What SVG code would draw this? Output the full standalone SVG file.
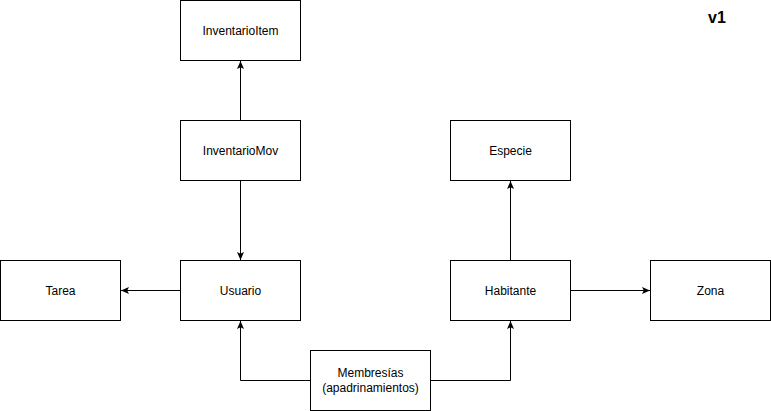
<svg xmlns="http://www.w3.org/2000/svg" width="771" height="411" viewBox="0 0 771 411">
<style>
.box{fill:#ffffff;stroke:#000000;stroke-width:1}
.lbl{font-family:"Liberation Sans",Arial,Helvetica,sans-serif;font-size:12px;fill:#000000;text-anchor:middle;dominant-baseline:central}
.edge{fill:none;stroke:#000000;stroke-width:1;marker-end:url(#arr)}
.title{font-family:"Liberation Sans",Arial,Helvetica,sans-serif;font-size:16px;font-weight:bold;fill:#000000;text-anchor:middle;dominant-baseline:central}
</style>
<defs>
<marker id="arr" markerUnits="userSpaceOnUse" markerWidth="8" markerHeight="8" viewBox="0 0 8 8" refX="8" refY="4" orient="auto">
<path d="M8,4 L0,0.5 L1.8,4 L0,7.5 Z" fill="#000000"/>
</marker>
</defs>
<rect width="771" height="411" fill="#ffffff"/>
<g id="connectors">
<path class="edge" d="M240.5,120.5 L240.5,61"/>
<path class="edge" d="M240.5,180.5 L240.5,260"/>
<path class="edge" d="M180.5,290.5 L121,290.5"/>
<path class="edge" d="M310.5,380.5 L240.5,380.5 L240.5,321"/>
<path class="edge" d="M430.5,380.5 L510.5,380.5 L510.5,321"/>
<path class="edge" d="M510.5,260.5 L510.5,181"/>
<path class="edge" d="M570.5,290.5 L650,290.5"/>
</g>
<g id="InventarioItem"><rect class="box" x="180.5" y="0.5" width="120" height="60"/><text class="lbl" x="240.5" y="30.5">InventarioItem</text></g>
<g id="InventarioMov"><rect class="box" x="180.5" y="120.5" width="120" height="60"/><text class="lbl" x="240.5" y="150.5">InventarioMov</text></g>
<g id="Usuario"><rect class="box" x="180.5" y="260.5" width="120" height="60"/><text class="lbl" x="240.5" y="290.5">Usuario</text></g>
<g id="Tarea"><rect class="box" x="0.5" y="260.5" width="120" height="60"/><text class="lbl" x="60.5" y="290.5">Tarea</text></g>
<g id="Especie"><rect class="box" x="450.5" y="120.5" width="120" height="60"/><text class="lbl" x="510.5" y="150.5">Especie</text></g>
<g id="Habitante"><rect class="box" x="450.5" y="260.5" width="120" height="60"/><text class="lbl" x="510.5" y="290.5">Habitante</text></g>
<g id="Zona"><rect class="box" x="650.5" y="260.5" width="120" height="60"/><text class="lbl" x="710.5" y="290.5">Zona</text></g>
<g id="Membresias"><rect class="box" x="310.5" y="350.5" width="120" height="60"/><text class="lbl" x="370.5" y="372.5">Membresías</text><text class="lbl" x="370.5" y="387.5">(apadrinamientos)</text></g>
<g id="v1"><text class="title" x="717" y="17">v1</text></g>
</svg>
